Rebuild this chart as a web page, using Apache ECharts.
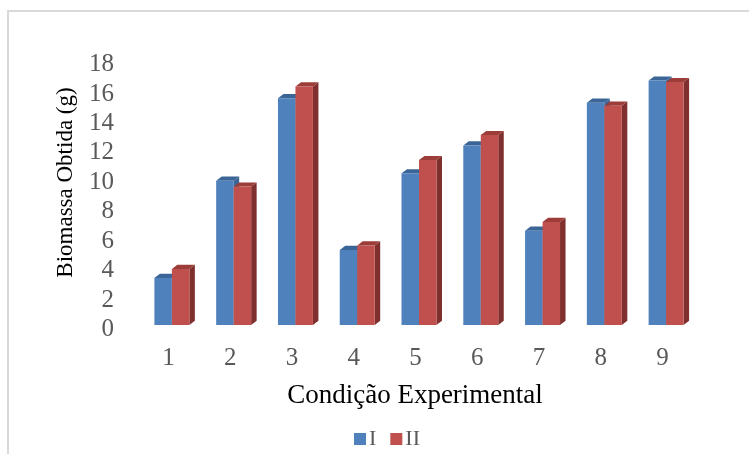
<!DOCTYPE html>
<html>
<head>
<meta charset="utf-8">
<script src="https://cdn.jsdelivr.net/npm/echarts@6/dist/echarts.min.js"></script>
<style>
  html, body { margin: 0; padding: 0; background: #ffffff; }
  #chart { width: 749px; height: 454px; }
</style>
</head>
<body>
<div id="chart"></div>
<script>
// Experimental conditions and biomass obtained (g) for each run
var categories = ['1', '2', '3', '4', '5', '6', '7', '8', '9'];
var seriesI  = [3.2, 9.8, 15.4, 5.1, 10.3, 12.2, 6.4, 15.1, 16.6];
var seriesII = [3.8, 9.4, 16.2, 5.4, 11.2, 12.9, 7.0, 14.9, 16.5];
var seriesNames = ['I', 'II'];
var yTicks = { min: 0, max: 18, interval: 2 };

var SERIF = "'Liberation Serif', 'DejaVu Serif', serif";
var BAR_FRAC = 0.283;   // width of one bar relative to the category band
var DEPTH_X = 5.5;      // 3D extrusion to the right
var DEPTH_Y = 4.2;      // 3D extrusion upward

// Each bar is drawn as a front face plus a top and side face to give a 3D look
function make3DRenderer(sideIndex, front, topColor, sideColor) {
  return function (params, api) {
    var cat = api.value(0);
    var val = api.value(1);
    var topPt = api.coord([cat, val]);
    var basePt = api.coord([cat, 0]);
    var band = api.size([1, 0])[0];
    var w = band * BAR_FRAC;
    var x0 = topPt[0] + (sideIndex === 0 ? -w : 0);
    var x1 = x0 + w;
    var yT = topPt[1];
    var yB = basePt[1];
    return {
      type: 'group',
      children: [
        {
          type: 'polygon',
          shape: { points: [[x1, yB], [x1 + DEPTH_X, yB - DEPTH_Y], [x1 + DEPTH_X, yT - DEPTH_Y], [x1, yT]] },
          style: { fill: sideColor }
        },
        {
          type: 'polygon',
          shape: { points: [[x0, yT], [x0 + DEPTH_X, yT - DEPTH_Y], [x1 + DEPTH_X, yT - DEPTH_Y], [x1, yT]] },
          style: { fill: topColor }
        },
        {
          type: 'rect',
          shape: { x: x0, y: yT, width: w, height: yB - yT },
          style: { fill: front }
        }
      ]
    };
  };
}

var chart = echarts.init(document.getElementById('chart'), null, { renderer: 'canvas' });

chart.setOption({
  backgroundColor: '#ffffff',
  animation: false,
  graphic: [{
    type: 'rect',
    shape: { x: 8, y: 11, width: 800, height: 500 },
    style: { fill: 'none', stroke: '#d9d9d9', lineWidth: 2 },
    silent: true,
    z: -10
  }],
  legend: {
    data: seriesNames,
    top: 423,
    left: 349,
    icon: 'rect',
    itemWidth: 12,
    itemHeight: 12,
    itemGap: 14,
    textStyle: { fontFamily: SERIF, fontSize: 22, color: '#595959', padding: [0, 0, 0, -2] }
  },
  grid: { left: 141, right: 52, top: 60, bottom: 129 },
  xAxis: {
    type: 'category',
    data: categories,
    axisLine: { show: false },
    axisTick: { show: false },
    axisLabel: { fontFamily: SERIF, fontSize: 25, color: '#595959', margin: 21, padding: [0, 7, 0, 0] },
    name: 'Condição Experimental',
    nameLocation: 'middle',
    nameGap: 57,
    nameTextStyle: { fontFamily: SERIF, fontSize: 27, color: '#000000', padding: [0, 8, 0, 0] }
  },
  yAxis: {
    type: 'value',
    min: yTicks.min,
    max: yTicks.max,
    interval: yTicks.interval,
    axisLine: { show: false },
    axisTick: { show: false },
    splitLine: { show: false },
    axisLabel: {
      fontFamily: SERIF, fontSize: 25, color: '#595959', margin: 27,
      verticalAlign: 'top', lineHeight: 9
    },
    name: 'Biomassa Obtida (g)',
    nameLocation: 'middle',
    nameRotate: 90,
    nameGap: 64,
    nameTextStyle: { fontFamily: SERIF, fontSize: 23, color: '#000000', padding: [0, 0, 0, 20] }
  },
  series: [
    {
      name: seriesNames[0],
      type: 'custom',
      itemStyle: { color: '#4f81bd' },
      encode: { x: 0, y: 1 },
      renderItem: make3DRenderer(0, '#4f81bd', '#3b6596', '#3b6596'),
      data: seriesI.map(function (v, i) { return [i, v]; }),
      z: 2
    },
    {
      name: seriesNames[1],
      type: 'custom',
      itemStyle: { color: '#c0504d' },
      encode: { x: 0, y: 1 },
      renderItem: make3DRenderer(1, '#c0504d', '#9c3d3a', '#7f2f2d'),
      data: seriesII.map(function (v, i) { return [i, v]; }),
      z: 3
    }
  ]
});
</script>
</body>
</html>
